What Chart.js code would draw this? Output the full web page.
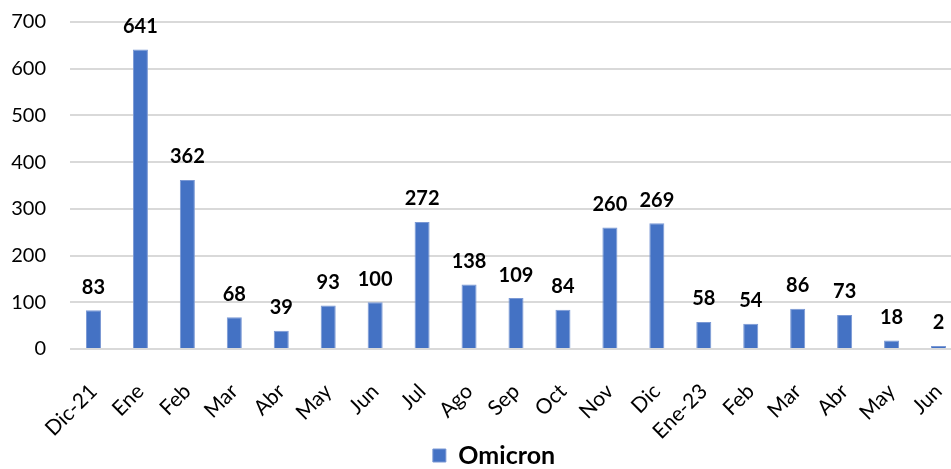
<!DOCTYPE html>
<html lang="es">
<head>
<meta charset="UTF-8">
<title>Omicron</title>
<script src="https://cdn.jsdelivr.net/npm/chart.js"></script>
<style>
    html, body { margin: 0; padding: 0; background: #fff; overflow: hidden; }
    #wrap { position: absolute; left: 0; top: 0; width: 962px; height: 469px; }
</style>
</head>
<body>
<div id="wrap"><canvas id="chart"></canvas></div>
<script>
// --- datos ---
const months = ['Dic-21', 'Ene', 'Feb', 'Mar', 'Abr', 'May', 'Jun', 'Jul', 'Ago', 'Sep',
                'Oct', 'Nov', 'Dic', 'Ene-23', 'Feb', 'Mar', 'Abr', 'May', 'Jun'];
const omicron = [83, 641, 362, 68, 39, 93, 100, 272, 138, 109, 84, 260, 269, 58, 54, 86, 73, 18, 2];
const yTicks = [0, 100, 200, 300, 400, 500, 600, 700];

const FONT = 'Lato, "Open Sans", sans-serif';

// etiquetas encima de cada barra + leyenda un poco a la derecha
const barLabels = {
    id: 'barLabels',
    afterLayout(chart) {
        chart.legend.left += 13;
        chart.legend.right += 13;
    },
    afterDatasetsDraw(chart) {
        const ctx = chart.ctx;
        const meta = chart.getDatasetMeta(0);
        ctx.save();
        ctx.font = 'bold 20px ' + FONT;
        ctx.fillStyle = '#000';
        ctx.textAlign = 'center';
        ctx.textBaseline = 'bottom';
        meta.data.forEach((bar, i) => {
            ctx.fillText(String(chart.data.datasets[0].data[i]), bar.x, bar.y - 13);
        });
        ctx.restore();
    }
};

new Chart(document.getElementById('chart'), {
    type: 'bar',
    data: {
        labels: months,
        datasets: [{
            label: 'Omicron',
            data: omicron,
            backgroundColor: '#4472C4',
            borderColor: '#7a98d4',
            borderWidth: 1,
            minBarLength: 3,
            barPercentage: 0.32,
            categoryPercentage: 1.0
        }]
    },
    options: {
        responsive: true,
        maintainAspectRatio: false,
        animation: false,
        layout: { padding: { top: 22, right: 0, bottom: -9, left: 0 } },
        plugins: {
            legend: {
                position: 'bottom',
                labels: {
                    color: '#000',
                    font: { family: FONT, size: 25, weight: 'bold' },
                    boxWidth: 13,
                    boxHeight: 13,
                    padding: 4
                }
            },
            tooltip: { enabled: false }
        },
        scales: {
            x: {
                afterFit: s => { s.height = 90; s.paddingLeft = 0; s.paddingRight = 0; },
                grid: { display: true, drawOnChartArea: false, drawTicks: true, tickLength: 30, tickColor: 'rgba(0,0,0,0)' },
                border: { display: false },
                ticks: {
                    color: '#000',
                    font: { family: FONT, size: 21 },
                    maxRotation: 45,
                    minRotation: 45,
                    autoSkip: false,
                    padding: 0
                }
            },
            y: {
                min: 0,
                max: 700,
                afterBuildTicks: s => { s.ticks = yTicks.map(v => ({ value: v })); },
                afterFit: s => { s.width = 70; },
                grid: { color: '#d9d9d9', lineWidth: 2, drawTicks: true, tickLength: 20, tickColor: 'rgba(0,0,0,0)' },
                border: { display: false },
                ticks: {
                    color: '#000',
                    font: { family: FONT, size: 20 },
                    padding: 4
                }
            }
        }
    },
    plugins: [barLabels]
});
</script>
</body>
</html>
